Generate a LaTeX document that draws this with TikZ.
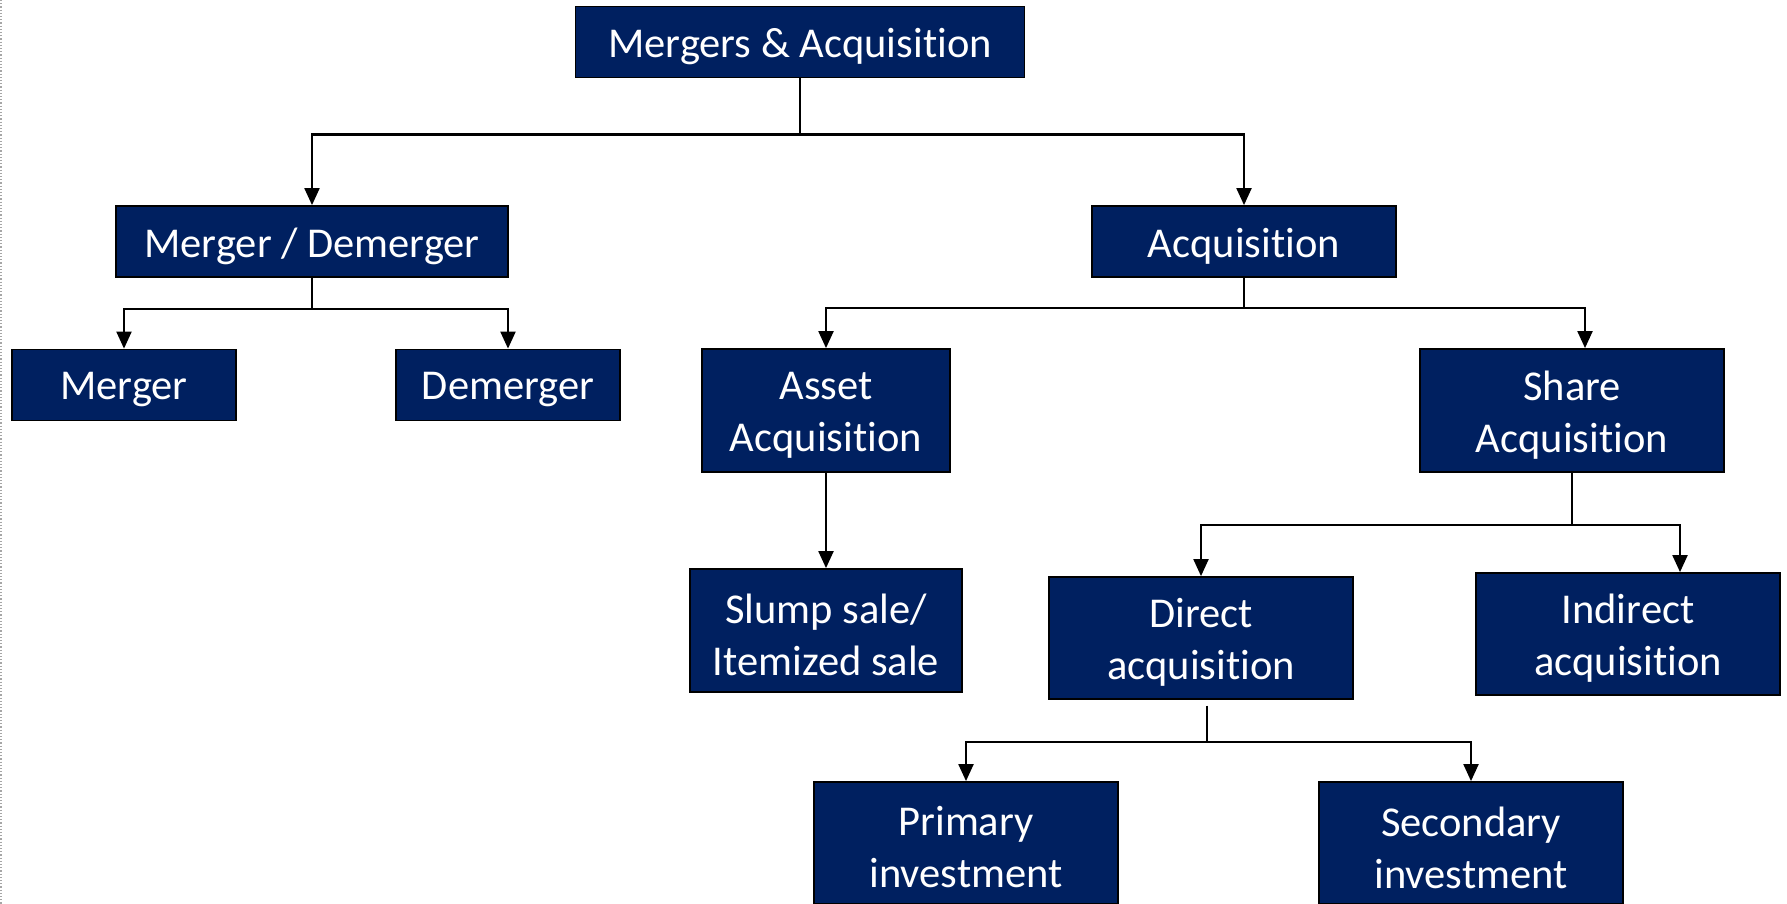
\documentclass[tikz,border=0pt]{standalone}
\usepackage{fontspec}
\setmainfont{Carlito}[Ligatures={NoCommon}]
\usetikzlibrary{arrows.meta}
\definecolor{navy}{RGB}{0,32,96}
\begin{document}
\begin{tikzpicture}[x=1pt,y=-1pt,
  box/.style={draw=black,line width=1.8pt,fill=navy,inner sep=0pt},
  boxtext/.style={text=white,align=center,inner sep=0pt,yshift=-4.5pt,
    font=\fontsize{42.5}{52}\selectfont},
  wide/.style={box,minimum height=71pt},
  tall/.style={box,minimum height=122pt},
  link/.style={line width=2.1pt,black},
  arr/.style={link,-{Triangle[length=17pt,width=15pt]}}]
\useasboundingbox (0,0) rectangle (1787,904);
\clip (0,0) rectangle (1787,904);
\draw[gray!70,dotted,line width=1.2pt] (1,0) -- (1,904);

% boxes, each with its text laid over the centre
\node[wide,minimum width=449pt,label={[boxtext]center:{Mergers \& Acquisition}}] (top) at (800,42) {};
\node[wide,minimum width=392pt,label={[boxtext]center:{Merger / Demerger}}] (md) at (312,241.5) {};
\node[wide,minimum width=304pt,label={[boxtext]center:{Acquisition}}] (acq) at (1244,241.5) {};
\node[wide,minimum width=223.5pt,label={[boxtext]center:{Merger}}] (mer) at (124,385) {};
\node[wide,minimum width=223.5pt,label={[boxtext]center:{Demerger}}] (dem) at (508,385) {};
\node[tall,minimum width=248.5pt,minimum height=123pt,label={[boxtext]center:{Asset\\Acquisition}}] (asset) at (826,410.5) {};
\node[tall,minimum width=304pt,minimum height=123pt,label={[boxtext]center:{Share\\Acquisition}}] (share) at (1572,410.5) {};
\node[tall,minimum width=272.4pt,minimum height=123pt,label={[boxtext]center:{Slump sale/\\Itemized sale}}] (slump) at (826,630.5) {};
\node[tall,minimum width=304.5pt,label={[boxtext]center:{Direct\\acquisition}}] (direct) at (1201,638) {};
\node[tall,minimum width=304pt,label={[boxtext]center:{Indirect\\acquisition}}] (indirect) at (1628,634) {};
\node[tall,minimum width=304pt,label={[boxtext]center:{Primary\\investment}}] (prim) at (966,843) {};
\node[tall,minimum width=304pt,label={[boxtext]center:{Secondary\\investment}}] (sec) at (1471,843) {};

% connectors
\draw[link] (top.south) -- (800,134.5) coordinate (j1);
\draw[arr] (j1) -| (md.north);
\draw[arr] (j1) -| (acq.north);

\draw[link] (md.south) -- (312,309) coordinate (j2);
\draw[arr] (j2) -| (mer.north);
\draw[arr] (j2) -| (dem.north);

\draw[link] (acq.south) -- (1244,307.7) coordinate (j3);
\draw[arr] (j3) -| (asset.north);
\draw[arr] (j3) -| ([xshift=13pt]share.north);

\draw[arr] (asset.south) -- (slump.north);

\draw[link] (share.south) -- (1572,525) coordinate (j4);
\draw[arr] (j4) -| (direct.north);
\draw[arr] (j4) -| ([xshift=52pt]indirect.north);

\coordinate (d0) at (1207,705.5);
\coordinate (j5) at (1207,742);
\draw[link] (d0) -- (j5);
\draw[arr] (j5) -| (prim.north);
\draw[arr] (j5) -| (sec.north);
\end{tikzpicture}
\end{document}
